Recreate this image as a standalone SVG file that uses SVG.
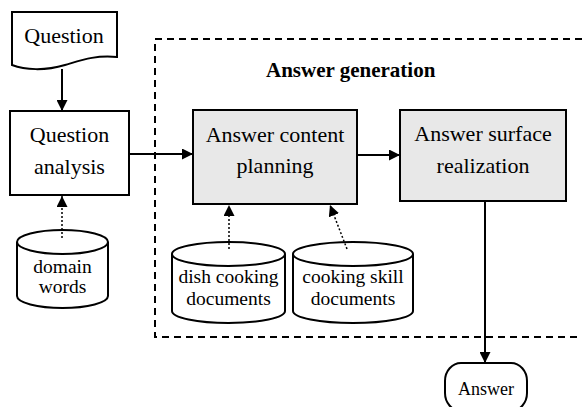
<svg xmlns="http://www.w3.org/2000/svg" width="582" height="407" viewBox="0 0 582 407">
<style>
  .box{fill:#fff;stroke:#000;stroke-width:2}
  .gbox{fill:#e8e8e8;stroke:#000;stroke-width:2}
  text{font-family:'Liberation Serif','Times New Roman','DejaVu Serif',serif;fill:#000}
  .t{font-size:22px;text-anchor:middle}
  .ts{font-size:19.5px;text-anchor:middle}
  .ta{font-size:18px;text-anchor:middle}
  .tb{font-size:21px;font-weight:bold}
  .solid{fill:none;stroke:#000;stroke-width:2}
  .dot{fill:none;stroke:#000;stroke-width:1.5;stroke-dasharray:2 2}
</style>
<defs>
  <marker id="ah" markerUnits="userSpaceOnUse" viewBox="0 0 10 10" refX="10" refY="5" markerWidth="11" markerHeight="11" orient="auto">
    <path d="M0,0 L10,5 L0,10 Z" fill="#000"/>
  </marker>
</defs>

<g id="answer-generation">
  <rect x="155" y="39" width="440" height="298" fill="none" stroke="#000" stroke-width="2" stroke-dasharray="7 5"/>
  <text class="tb" x="266" y="77">Answer generation</text>
</g>

<g id="question">
  <path class="box" d="M12,12 H117 V57 C95,55 82,60 65,65 C45,71 25,70 12,65 Z"/>
  <text class="t" x="64" y="43">Question</text>
</g>

<g id="question-analysis">
  <rect class="box" x="10" y="111" width="119" height="84"/>
  <text class="t" x="69.5" y="142">Question</text>
  <text class="t" x="69.5" y="174">analysis</text>
</g>

<g id="domain-words">
  <path class="box" d="M17,242 V296 A45.5,12 0 0 0 108,296 V242"/>
  <ellipse class="box" cx="62.5" cy="242" rx="45.5" ry="12"/>
  <text class="ts" x="62.5" y="273">domain</text>
  <text class="ts" x="62.5" y="293">words</text>
</g>

<g id="answer-content-planning">
  <rect class="gbox" x="193" y="110" width="164" height="94"/>
  <text class="t" x="275" y="142">Answer content</text>
  <text class="t" x="275" y="173">planning</text>
</g>

<g id="answer-surface-realization">
  <rect class="gbox" x="400" y="110" width="166" height="91"/>
  <text class="t" x="483" y="141">Answer surface</text>
  <text class="t" x="483" y="173">realization</text>
</g>

<g id="dish-cooking-documents">
  <path class="box" d="M172,254 V311 A56.5,12 0 0 0 285,311 V254"/>
  <ellipse class="box" cx="228.5" cy="254" rx="56.5" ry="12"/>
  <text class="ts" x="228.5" y="283">dish cooking</text>
  <text class="ts" x="228.5" y="305">documents</text>
</g>

<g id="cooking-skill-documents">
  <path class="box" d="M293,254 V311 A60,12 0 0 0 413,311 V254"/>
  <ellipse class="box" cx="353" cy="254" rx="60" ry="12"/>
  <text class="ts" x="353" y="283">cooking skill</text>
  <text class="ts" x="353" y="305">documents</text>
</g>

<g id="answer">
  <rect class="box" x="445" y="363" width="82" height="48" rx="16" ry="18"/>
  <text class="ta" x="486" y="395">Answer</text>
</g>

<g id="connectors">
  <line class="solid" x1="62" y1="69" x2="62" y2="111" marker-end="url(#ah)"/>
  <line class="solid" x1="129" y1="154" x2="193" y2="154" marker-end="url(#ah)" stroke-width="2.5"/>
  <line class="solid" x1="357" y1="155" x2="400" y2="155" marker-end="url(#ah)" stroke-width="1.5"/>
  <line class="solid" x1="485" y1="201" x2="485" y2="363" marker-end="url(#ah)"/>
  <line class="dot" x1="62" y1="238" x2="62" y2="196" marker-end="url(#ah)"/>
  <line class="dot" x1="229" y1="249" x2="229" y2="205" marker-end="url(#ah)"/>
  <line class="dot" x1="347" y1="249" x2="330" y2="205" marker-end="url(#ah)"/>
</g>
</svg>
